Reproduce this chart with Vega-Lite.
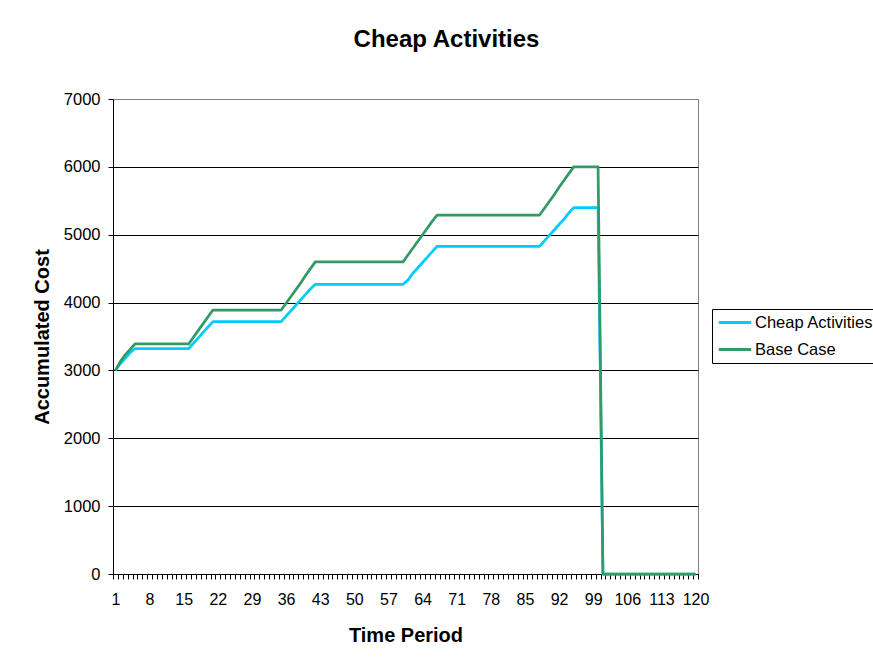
{
  "$schema": "https://vega.github.io/schema/vega-lite/v6.json",
  "width": 585,
  "height": 475,
  "autosize": {"type": "none"},
  "padding": {"left": 113, "top": 99, "right": 175, "bottom": 89},
  "background": "#ffffff",
  "config": {
    "font": "Liberation Sans",
    "view": {"stroke": "#808080", "strokeWidth": 1}
  },
  "title": {
    "text": "Cheap Activities",
    "font": "Liberation Sans",
    "fontSize": 24,
    "fontWeight": "bold",
    "color": "#000000",
    "anchor": "middle",
    "frame": "group",
    "baseline": "alphabetic",
    "dx": 41,
    "offset": 20
  },
  "data": {
    "values": [
      {"t": 1, "Cheap Activities": 3000, "Base Case": 3000},
      {"t": 2, "Cheap Activities": 3100, "Base Case": 3130},
      {"t": 3, "Cheap Activities": 3180, "Base Case": 3230},
      {"t": 4, "Cheap Activities": 3260, "Base Case": 3310},
      {"t": 5, "Cheap Activities": 3320, "Base Case": 3390},
      {"t": 6, "Cheap Activities": 3320, "Base Case": 3390},
      {"t": 7, "Cheap Activities": 3320, "Base Case": 3390},
      {"t": 8, "Cheap Activities": 3320, "Base Case": 3390},
      {"t": 9, "Cheap Activities": 3320, "Base Case": 3390},
      {"t": 10, "Cheap Activities": 3320, "Base Case": 3390},
      {"t": 11, "Cheap Activities": 3320, "Base Case": 3390},
      {"t": 12, "Cheap Activities": 3320, "Base Case": 3390},
      {"t": 13, "Cheap Activities": 3320, "Base Case": 3390},
      {"t": 14, "Cheap Activities": 3320, "Base Case": 3390},
      {"t": 15, "Cheap Activities": 3320, "Base Case": 3390},
      {"t": 16, "Cheap Activities": 3320, "Base Case": 3390},
      {"t": 17, "Cheap Activities": 3400, "Base Case": 3490},
      {"t": 18, "Cheap Activities": 3480, "Base Case": 3590},
      {"t": 19, "Cheap Activities": 3560, "Base Case": 3690},
      {"t": 20, "Cheap Activities": 3640, "Base Case": 3790},
      {"t": 21, "Cheap Activities": 3720, "Base Case": 3890},
      {"t": 22, "Cheap Activities": 3720, "Base Case": 3890},
      {"t": 23, "Cheap Activities": 3720, "Base Case": 3890},
      {"t": 24, "Cheap Activities": 3720, "Base Case": 3890},
      {"t": 25, "Cheap Activities": 3720, "Base Case": 3890},
      {"t": 26, "Cheap Activities": 3720, "Base Case": 3890},
      {"t": 27, "Cheap Activities": 3720, "Base Case": 3890},
      {"t": 28, "Cheap Activities": 3720, "Base Case": 3890},
      {"t": 29, "Cheap Activities": 3720, "Base Case": 3890},
      {"t": 30, "Cheap Activities": 3720, "Base Case": 3890},
      {"t": 31, "Cheap Activities": 3720, "Base Case": 3890},
      {"t": 32, "Cheap Activities": 3720, "Base Case": 3890},
      {"t": 33, "Cheap Activities": 3720, "Base Case": 3890},
      {"t": 34, "Cheap Activities": 3720, "Base Case": 3890},
      {"t": 35, "Cheap Activities": 3720, "Base Case": 3890},
      {"t": 36, "Cheap Activities": 3800, "Base Case": 3990},
      {"t": 37, "Cheap Activities": 3880, "Base Case": 4090},
      {"t": 38, "Cheap Activities": 3960, "Base Case": 4190},
      {"t": 39, "Cheap Activities": 4040, "Base Case": 4290},
      {"t": 40, "Cheap Activities": 4120, "Base Case": 4400},
      {"t": 41, "Cheap Activities": 4200, "Base Case": 4500},
      {"t": 42, "Cheap Activities": 4270, "Base Case": 4600},
      {"t": 43, "Cheap Activities": 4270, "Base Case": 4600},
      {"t": 44, "Cheap Activities": 4270, "Base Case": 4600},
      {"t": 45, "Cheap Activities": 4270, "Base Case": 4600},
      {"t": 46, "Cheap Activities": 4270, "Base Case": 4600},
      {"t": 47, "Cheap Activities": 4270, "Base Case": 4600},
      {"t": 48, "Cheap Activities": 4270, "Base Case": 4600},
      {"t": 49, "Cheap Activities": 4270, "Base Case": 4600},
      {"t": 50, "Cheap Activities": 4270, "Base Case": 4600},
      {"t": 51, "Cheap Activities": 4270, "Base Case": 4600},
      {"t": 52, "Cheap Activities": 4270, "Base Case": 4600},
      {"t": 53, "Cheap Activities": 4270, "Base Case": 4600},
      {"t": 54, "Cheap Activities": 4270, "Base Case": 4600},
      {"t": 55, "Cheap Activities": 4270, "Base Case": 4600},
      {"t": 56, "Cheap Activities": 4270, "Base Case": 4600},
      {"t": 57, "Cheap Activities": 4270, "Base Case": 4600},
      {"t": 58, "Cheap Activities": 4270, "Base Case": 4600},
      {"t": 59, "Cheap Activities": 4270, "Base Case": 4600},
      {"t": 60, "Cheap Activities": 4270, "Base Case": 4600},
      {"t": 61, "Cheap Activities": 4330, "Base Case": 4700},
      {"t": 62, "Cheap Activities": 4430, "Base Case": 4800},
      {"t": 63, "Cheap Activities": 4510, "Base Case": 4900},
      {"t": 64, "Cheap Activities": 4590, "Base Case": 5000},
      {"t": 65, "Cheap Activities": 4670, "Base Case": 5100},
      {"t": 66, "Cheap Activities": 4750, "Base Case": 5200},
      {"t": 67, "Cheap Activities": 4830, "Base Case": 5290},
      {"t": 68, "Cheap Activities": 4830, "Base Case": 5290},
      {"t": 69, "Cheap Activities": 4830, "Base Case": 5290},
      {"t": 70, "Cheap Activities": 4830, "Base Case": 5290},
      {"t": 71, "Cheap Activities": 4830, "Base Case": 5290},
      {"t": 72, "Cheap Activities": 4830, "Base Case": 5290},
      {"t": 73, "Cheap Activities": 4830, "Base Case": 5290},
      {"t": 74, "Cheap Activities": 4830, "Base Case": 5290},
      {"t": 75, "Cheap Activities": 4830, "Base Case": 5290},
      {"t": 76, "Cheap Activities": 4830, "Base Case": 5290},
      {"t": 77, "Cheap Activities": 4830, "Base Case": 5290},
      {"t": 78, "Cheap Activities": 4830, "Base Case": 5290},
      {"t": 79, "Cheap Activities": 4830, "Base Case": 5290},
      {"t": 80, "Cheap Activities": 4830, "Base Case": 5290},
      {"t": 81, "Cheap Activities": 4830, "Base Case": 5290},
      {"t": 82, "Cheap Activities": 4830, "Base Case": 5290},
      {"t": 83, "Cheap Activities": 4830, "Base Case": 5290},
      {"t": 84, "Cheap Activities": 4830, "Base Case": 5290},
      {"t": 85, "Cheap Activities": 4830, "Base Case": 5290},
      {"t": 86, "Cheap Activities": 4830, "Base Case": 5290},
      {"t": 87, "Cheap Activities": 4830, "Base Case": 5290},
      {"t": 88, "Cheap Activities": 4830, "Base Case": 5290},
      {"t": 89, "Cheap Activities": 4910, "Base Case": 5390},
      {"t": 90, "Cheap Activities": 4990, "Base Case": 5490},
      {"t": 91, "Cheap Activities": 5070, "Base Case": 5590},
      {"t": 92, "Cheap Activities": 5150, "Base Case": 5700},
      {"t": 93, "Cheap Activities": 5230, "Base Case": 5800},
      {"t": 94, "Cheap Activities": 5320, "Base Case": 5900},
      {"t": 95, "Cheap Activities": 5400, "Base Case": 6000},
      {"t": 96, "Cheap Activities": 5400, "Base Case": 6000},
      {"t": 97, "Cheap Activities": 5400, "Base Case": 6000},
      {"t": 98, "Cheap Activities": 5400, "Base Case": 6000},
      {"t": 99, "Cheap Activities": 5400, "Base Case": 6000},
      {"t": 100, "Cheap Activities": 5400, "Base Case": 6000},
      {"t": 101, "Cheap Activities": 0, "Base Case": 0},
      {"t": 102, "Cheap Activities": 0, "Base Case": 0},
      {"t": 103, "Cheap Activities": 0, "Base Case": 0},
      {"t": 104, "Cheap Activities": 0, "Base Case": 0},
      {"t": 105, "Cheap Activities": 0, "Base Case": 0},
      {"t": 106, "Cheap Activities": 0, "Base Case": 0},
      {"t": 107, "Cheap Activities": 0, "Base Case": 0},
      {"t": 108, "Cheap Activities": 0, "Base Case": 0},
      {"t": 109, "Cheap Activities": 0, "Base Case": 0},
      {"t": 110, "Cheap Activities": 0, "Base Case": 0},
      {"t": 111, "Cheap Activities": 0, "Base Case": 0},
      {"t": 112, "Cheap Activities": 0, "Base Case": 0},
      {"t": 113, "Cheap Activities": 0, "Base Case": 0},
      {"t": 114, "Cheap Activities": 0, "Base Case": 0},
      {"t": 115, "Cheap Activities": 0, "Base Case": 0},
      {"t": 116, "Cheap Activities": 0, "Base Case": 0},
      {"t": 117, "Cheap Activities": 0, "Base Case": 0},
      {"t": 118, "Cheap Activities": 0, "Base Case": 0},
      {"t": 119, "Cheap Activities": 0, "Base Case": 0},
      {"t": 120, "Cheap Activities": 0, "Base Case": 0}
    ]
  },
  "transform": [
    {"fold": ["Cheap Activities", "Base Case"], "as": ["series", "cost"]}
  ],
  "encoding": {
    "x": {
      "field": "t",
      "type": "ordinal",
      "bandPosition": 0.5,
      "scale": {"type": "band", "paddingInner": 0, "paddingOuter": 0},
      "axis": {
        "title": "Time Period",
        "titleFont": "Liberation Sans",
        "titleFontSize": 20,
        "titleFontWeight": "bold",
        "titleColor": "#000000",
        "titleBaseline": "alphabetic",
        "titleY": 67,
        "tickBand": "extent",
        "tickSize": 5,
        "tickColor": "#000000",
        "domainColor": "#000000",
        "grid": false,
        "labelAngle": 0,
        "labelOverlap": false,
        "labelFont": "Liberation Sans",
        "labelFontSize": 16,
        "labelColor": "#000000",
        "labelBaseline": "alphabetic",
        "labelPadding": 25,
        "labelExpr": "(datum.value - 1) % 7 === 0 ? datum.label : ''"
      }
    },
    "y": {
      "field": "cost",
      "type": "quantitative",
      "scale": {"domain": [0, 7000], "nice": false},
      "axis": {
        "title": "Accumulated Cost",
        "titleFont": "Liberation Sans",
        "titleFontSize": 20,
        "titleFontWeight": "bold",
        "titleColor": "#000000",
        "titleBaseline": "alphabetic",
        "titleX": -65,
        "titleY": 237.5,
        "values": [0, 1000, 2000, 3000, 4000, 5000, 6000, 7000],
        "format": "d",
        "grid": true,
        "gridColor": {"condition": {"test": "datum.value === 7000", "value": "#808080"}, "value": "#000000"},
        "gridWidth": 1,
        "tickSize": 5,
        "tickColor": "#000000",
        "domainColor": "#000000",
        "labelFont": "Liberation Sans",
        "labelFontSize": 16.5,
        "labelColor": "#000000",
        "labelPadding": 8
      }
    },
    "color": {
      "field": "series",
      "type": "nominal",
      "scale": {"domain": ["Cheap Activities", "Base Case"], "range": ["#00ccff", "#339966"]},
      "legend": {
        "title": null,
        "orient": "none",
        "legendX": 599,
        "legendY": 210,
        "symbolType": "stroke",
        "symbolSize": 1050,
        "symbolStrokeWidth": 3,
        "clipHeight": 17,
        "strokeColor": "#000000",
        "fillColor": "#ffffff",
        "padding": 5,
        "labelFont": "Liberation Sans",
        "labelFontSize": 16.5,
        "labelColor": "#000000",
        "labelOffset": 2,
        "labelLimit": 300,
        "rowPadding": 10
      }
    }
  },
  "layer": [
    {
      "transform": [{"filter": "datum.series === 'Cheap Activities'"}],
      "mark": {"type": "line", "strokeWidth": 2.75, "strokeJoin": "round"}
    },
    {
      "transform": [{"filter": "datum.series === 'Base Case'"}],
      "mark": {"type": "line", "strokeWidth": 2.75, "strokeJoin": "round"}
    }
  ]
}
